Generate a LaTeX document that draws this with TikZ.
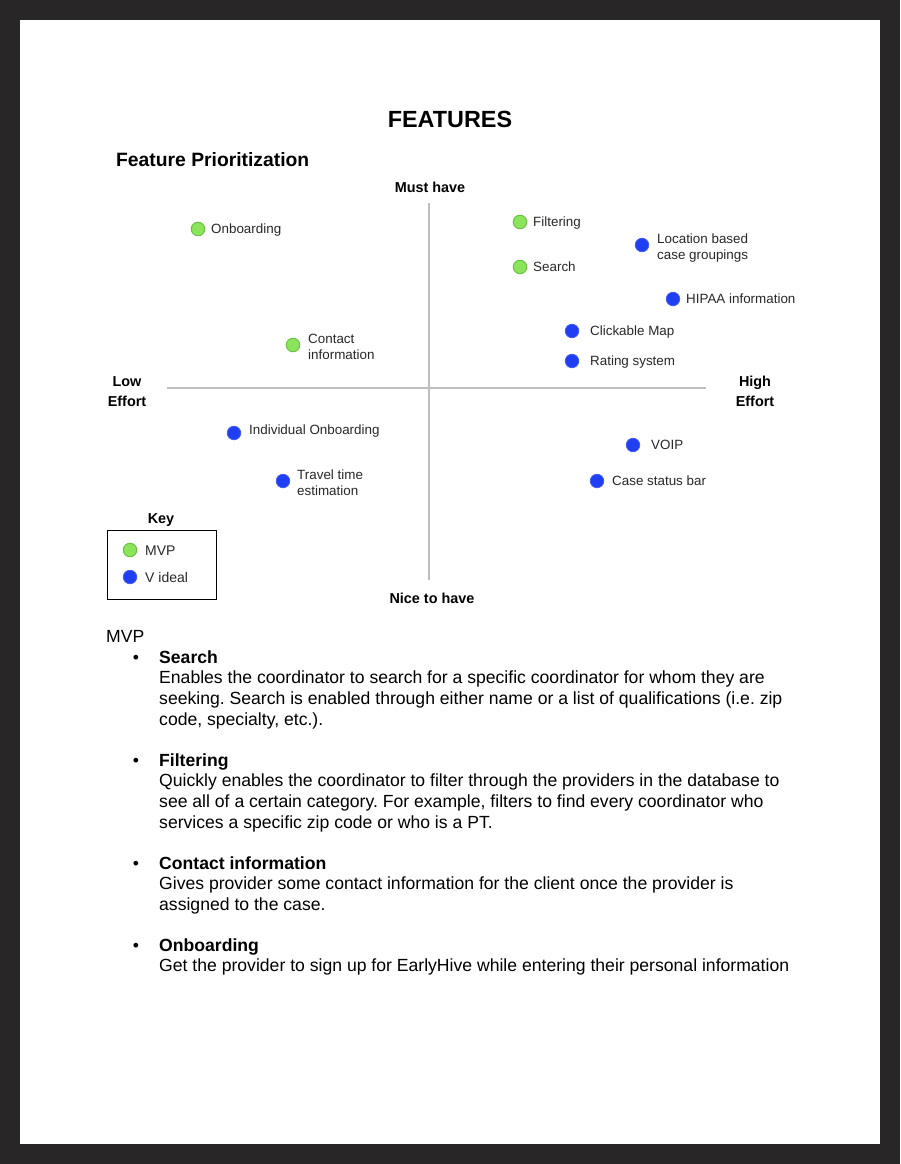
\documentclass[tikz,border=0pt]{standalone}
\usepackage{fontspec}
\setmainfont{Liberation Sans}
\frenchspacing
\definecolor{framegray}{RGB}{40,38,39}
\definecolor{mvpfill}{RGB}{140,228,92}
\definecolor{mvpline}{RGB}{105,195,65}
\definecolor{idealfill}{RGB}{32,62,242}
\definecolor{axisgray}{RGB}{190,190,190}
\definecolor{labtext}{RGB}{40,40,40}
\tikzset{
 body/.style={anchor=west,inner sep=0pt,font=\fontsize{17.6}{20.7}\selectfont,text height=12.6pt,text depth=0pt},
 bodyb/.style={body,font=\fontsize{17.6}{20.7}\selectfont\bfseries},
 lab/.style={anchor=west,inner sep=0pt,text=labtext,font=\fontsize{13.4}{16}\selectfont,text height=9.6pt,text depth=0pt},
 axlab/.style={inner sep=0pt,font=\fontsize{14.4}{19}\selectfont\bfseries,text height=10.3pt,text depth=0pt},
 keylab/.style={anchor=west,inner sep=0pt,text=labtext,font=\fontsize{14}{17}\selectfont,text height=10pt,text depth=0pt},
 mvp/.style={circle,fill=mvpfill,draw=mvpline,line width=1pt,minimum size=13.5pt,inner sep=0pt},
 ideal/.style={circle,fill=idealfill,draw=idealfill!85!white,line width=0.8pt,minimum size=13.5pt,inner sep=0pt},
 axis/.style={draw=axisgray,line width=1.8pt},
}
\begin{document}
\begin{tikzpicture}[x=1pt,y=-1pt]
\fill[framegray] (0,0) rectangle (900,1164);
\fill[white] (20,20) rectangle (880,1144);
\useasboundingbox (0,0) rectangle (900,1164);

% titles
\node[inner sep=0pt,font=\fontsize{23.4}{28}\selectfont\bfseries,text height=16.8pt,text depth=0pt] (title) at (450,119) {FEATURES};
\node[anchor=west,inner sep=0pt,font=\fontsize{19.3}{23}\selectfont\bfseries,text height=13.8pt,text depth=0pt] (sub) at (116,160) {Feature Prioritization};

% axes
\coordinate (vt) at (429,203);
\coordinate (vb) at (429,580);
\coordinate (hl) at (167,388);
\coordinate (hr) at (706,388);
\draw[axis] (vt) -- (vb);
\draw[axis] (hl) -- (hr);
\node[axlab] (must) at (430,187) {Must have};
\node[axlab] (nice) at (432,598) {Nice to have};
\node[axlab] (low1) at (127,381) {Low};
\node[axlab] (low2) at (127,401) {Effort};
\node[axlab] (high1) at (755,381) {High};
\node[axlab] (high2) at (755,401) {Effort};

% MVP points
\node[mvp] (d1) at (198,229) {};
\node[lab] (l1) at (211,229) {Onboarding};
\node[mvp] (d2) at (293,345) {};
\node[lab] (l2a) at (308,339) {Contact};
\node[lab] (l2b) at (308,355) {information};
\node[mvp] (d3) at (520,222) {};
\node[lab] (l3) at (533,222) {Filtering};
\node[mvp] (d4) at (520,267) {};
\node[lab] (l4) at (533,267) {Search};

% ideal points
\node[ideal] (d5) at (642,245) {};
\node[lab] (l5a) at (657,239) {Location based};
\node[lab] (l5b) at (657,255) {case groupings};
\node[ideal] (d6) at (673,299) {};
\node[lab] (l6) at (686,299) {HIPAA information};
\node[ideal] (d7) at (572,331) {};
\node[lab] (l7) at (590,331) {Clickable Map};
\node[ideal] (d8) at (572,361) {};
\node[lab] (l8) at (590,361) {Rating system};
\node[ideal] (d9) at (234,433) {};
\node[lab] (l9) at (249,430) {Individual Onboarding};
\node[ideal] (d10) at (283,481) {};
\node[lab] (l10a) at (297,475) {Travel time};
\node[lab] (l10b) at (297,491) {estimation};
\node[ideal] (d11) at (633,445) {};
\node[lab] (l11) at (651,445) {VOIP};
\node[ideal] (d12) at (597,481) {};
\node[lab] (l12) at (612,481) {Case status bar};

% key
\node[axlab] (key) at (161,518) {Key};
\node[draw=black,line width=1.3pt,minimum width=109pt,minimum height=69pt,anchor=north west,inner sep=0pt] (keybox) at (107,530) {};
\node[mvp] (k1) at (130,550) {};
\node[keylab] (k1l) at (145,550) {MVP};
\node[ideal] (k2) at (130,577) {};
\node[keylab] (k2l) at (145,577) {V ideal};

% text section
\node[body] (mvptitle) at (106,636) {MVP};
\foreach \y/\n in {657/b1,760/b2,863/b3,945/b4}
  \node[body,anchor=center] (\n) at (136,\y) {•};
\node[bodyb] (h1) at (159,657) {Search};
\node[body] (t1a) at (159,677) {Enables the coordinator to search for a specific coordinator for whom they are};
\node[body] (t1b) at (159,698) {seeking. Search is enabled through either name or a list of qualifications (i.e. zip};
\node[body] (t1c) at (159,719) {code, specialty, etc.).};
\node[bodyb] (h2) at (159,760) {Filtering};
\node[body] (t2a) at (159,780) {Quickly enables the coordinator to filter through the providers in the database to};
\node[body] (t2b) at (159,801) {see all of a certain category. For example, filters to find every coordinator who};
\node[body] (t2c) at (159,822) {services a specific zip code or who is a PT.};
\node[bodyb] (h3) at (159,863) {Contact information};
\node[body] (t3a) at (159,883) {Gives provider some contact information for the client once the provider is};
\node[body] (t3b) at (159,904) {assigned to the case.};
\node[bodyb] (h4) at (159,945) {Onboarding};
\node[body] (t4a) at (159,965) {Get the provider to sign up for EarlyHive while entering their personal information};
\end{tikzpicture}
\end{document}
